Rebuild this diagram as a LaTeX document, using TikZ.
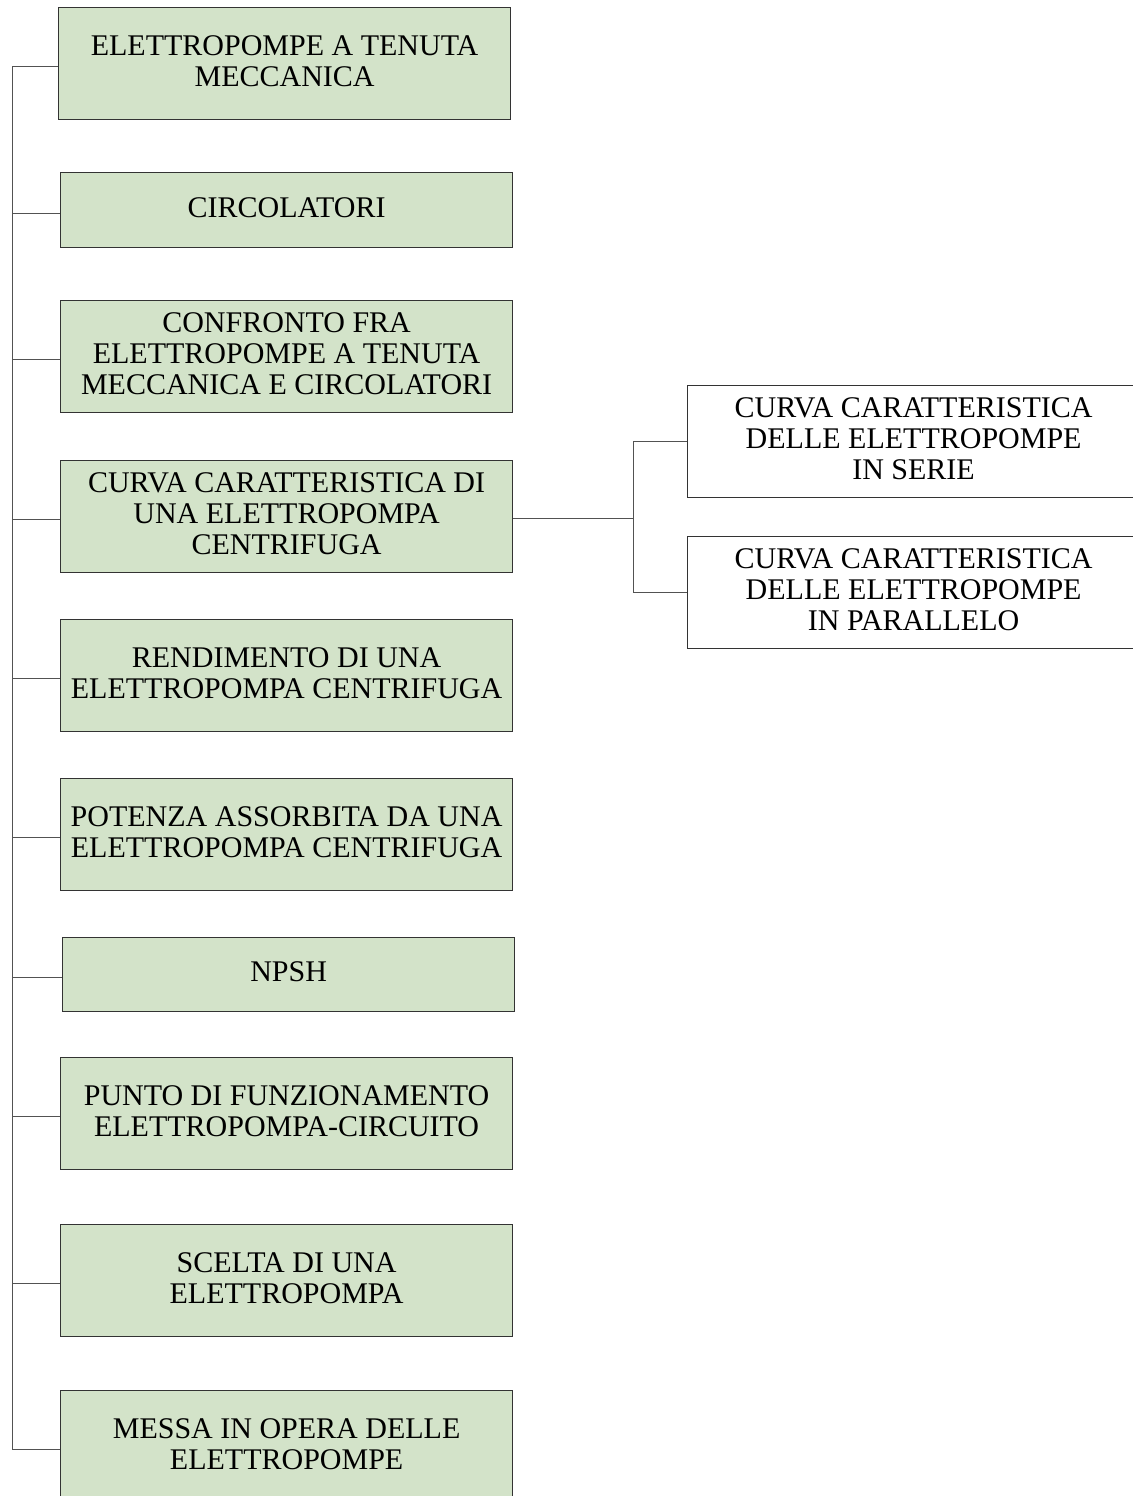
\documentclass[tikz,border=0pt]{standalone}
\usepackage{fontspec}
\setmainfont{Liberation Serif}
\usetikzlibrary{positioning}
\definecolor{topicgreen}{RGB}{211,227,201}
\definecolor{boxline}{RGB}{51,51,51}
\tikzset{
  topic/.style={draw=boxline, line width=0.6pt, fill=topicgreen, anchor=north west,
    minimum width=226pt, minimum height=56pt, align=center, inner sep=0pt,
    text depth=3pt, font=\fontsize{15}{15.5}\selectfont},
  subtopic/.style={topic, fill=white},
  link/.style={draw=boxline!85, line width=0.5pt}
}
\begin{document}
\begin{tikzpicture}[x=0.5pt,y=-0.5pt]
  \useasboundingbox (0,0) rectangle (1133,1496);
  % main column
  \node[topic] (b1) at (58,7) {ELETTROPOMPE A TENUTA\\MECCANICA};
  \node[topic, minimum height=37.5pt] (b2) at (60,172) {CIRCOLATORI};
  \node[topic] (b3) at (60,300) {CONFRONTO FRA\\ELETTROPOMPE A TENUTA\\MECCANICA E CIRCOLATORI};
  \node[topic] (b4) at (60,460) {CURVA CARATTERISTICA DI\\UNA ELETTROPOMPA\\CENTRIFUGA};
  \node[topic] (b5) at (60,619) {RENDIMENTO DI UNA\\ELETTROPOMPA CENTRIFUGA};
  \node[topic] (b6) at (60,778) {POTENZA ASSORBITA DA UNA\\ELETTROPOMPA CENTRIFUGA};
  \node[topic, minimum height=37pt] (b7) at (62,937) {NPSH};
  \node[topic] (b8) at (60,1057) {PUNTO DI FUNZIONAMENTO\\ELETTROPOMPA-CIRCUITO};
  \node[topic] (b9) at (60,1224) {SCELTA DI UNA\\ELETTROPOMPA};
  \node[topic] (b10) at (60,1390) {MESSA IN OPERA DELLE\\ELETTROPOMPE};
  % branch of b4
  \node[subtopic] (r1) at (687,385) {CURVA CARATTERISTICA\\DELLE ELETTROPOMPE\\IN SERIE};
  \node[subtopic] (r2) at (687,536) {CURVA CARATTERISTICA\\DELLE ELETTROPOMPE\\IN PARALLELO};
  % connectors
  \coordinate (trunk) at (12,0);
  \coordinate (fork) at (633,0);
  \draw[link] ([yshift=-1.5pt]b1.west -| trunk) -- ([yshift=-1.5pt]b10.west -| trunk);
  \foreach \i in {1,...,10}
    \draw[link] ([yshift=-1.5pt]b\i.west) -- ([yshift=-1.5pt]b\i.west -| trunk);
  \draw[link] ([yshift=-1pt]b4.east) -- ([yshift=-1pt]b4.east -| fork);
  \draw[link] (r1.west -| fork) -- (r2.west -| fork);
  \foreach \r in {r1,r2}
    \draw[link] (\r.west) -- (\r.west -| fork);
\end{tikzpicture}
\end{document}
